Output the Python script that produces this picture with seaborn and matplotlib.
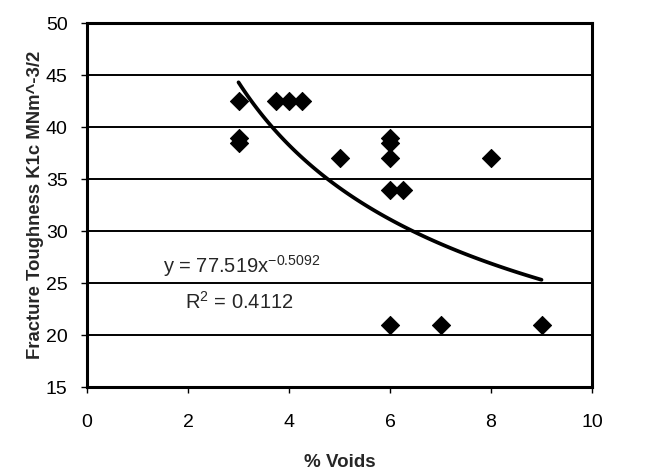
import numpy as np
import pandas as pd
import seaborn as sns
import matplotlib.pyplot as plt

voids = [3, 3, 3, 3.75, 4, 4.25, 5, 6, 6, 6, 6, 6.25, 8, 6, 7, 9]
toughness = [42.5, 39, 38.5, 42.5, 42.5, 42.5, 37, 39, 38.5, 37, 34, 34, 37, 21, 21, 21]

# power trendline as printed on the chart
fit_a = 77.519
fit_b = -0.5092
fit_r2 = 0.4112

if __name__ == "__main__":
    sns.set_style("white")
    plt.rcParams['font.family'] = ['Liberation Sans', 'DejaVu Sans']
    plt.rcParams['mathtext.fontset'] = 'custom'
    plt.rcParams['mathtext.rm'] = 'Liberation Sans'
    plt.rcParams['mathtext.it'] = 'Liberation Sans:italic'
    plt.rcParams['mathtext.default'] = 'rm'

    df = pd.DataFrame({'% Voids': voids, 'K1c': toughness})
    xs = np.linspace(min(voids), max(voids), 100)
    fit_df = pd.DataFrame({'x': xs, 'y': fit_a * xs ** fit_b})

    fig = plt.figure(figsize=(6.47, 4.71), dpi=100)
    ax = fig.add_axes([0.1345, 0.178, 0.7805, 0.773])

    for yv in range(20, 50, 5):
        ax.axhline(yv, color='black', lw=1.4, zorder=1)

    sns.lineplot(data=fit_df, x='x', y='y', color='black', lw=2.7, ax=ax, zorder=2)
    sns.scatterplot(data=df, x='% Voids', y='K1c', marker='D', color='black',
                    s=85, edgecolor='black', ax=ax, zorder=3)

    ax.set_xlim(0, 10)
    ax.set_ylim(15, 50)
    ax.set_xticks(range(0, 11, 2))
    ax.set_yticks(range(15, 51, 5))
    ax.tick_params(axis='both', direction='out', length=4, width=1, labelsize=14,
                   pad=10, bottom=True, left=True, colors='black')
    ax.tick_params(axis='x', pad=15)
    for sp in ax.spines.values():
        sp.set_linewidth(2.2)
        sp.set_color('black')

    ax.set_xlabel('% Voids', fontsize=13.5, fontweight='bold', labelpad=17)
    ax.set_ylabel('Fracture Toughness K1c MNm^-3/2', fontsize=13.3,
                  fontweight='bold', labelpad=1)

    ax.text(1.5, 26.6, 'y = 77.519x$^{\\mathrm{-0.5092}}$', fontsize=14.5,
            va='center', ha='left')
    ax.text(1.95, 23.2, 'R$^{2}$ = %.4f' % fit_r2, fontsize=14.5, va='center',
            ha='left')

    fig.savefig('out.png', dpi=100)
    plt.close()
